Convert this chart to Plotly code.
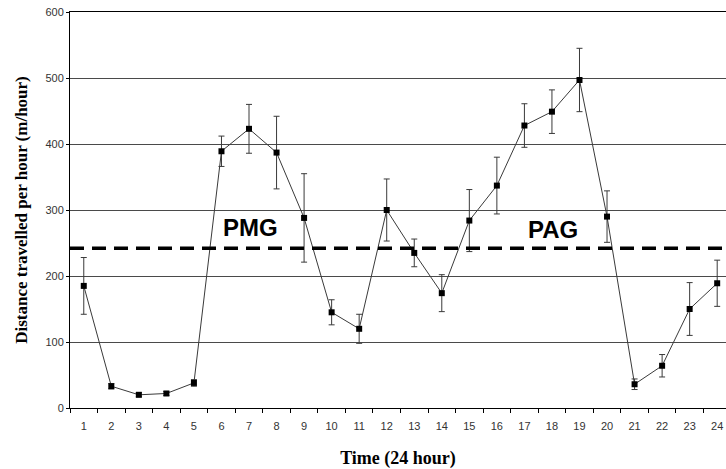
import plotly.graph_objects as go

hours = list(range(1, 25))
distance = [185, 33, 20, 22, 38, 389, 423, 387, 288, 145, 120, 300,
            235, 174, 284, 337, 428, 449, 497, 290, 36, 64, 150, 189]
error = [43, 4, 3, 3, 5, 23, 37, 55, 67, 19, 22, 47,
         21, 28, 47, 43, 33, 33, 48, 39, 8, 17, 40, 35]
threshold = 242
labels = [("PMG", 7.05, 273), ("PAG", 18.05, 270)]
y_ticks = [0, 100, 200, 300, 400, 500, 600]

fig = go.Figure()
fig.add_trace(go.Scatter(
    x=hours, y=distance,
    mode="lines+markers",
    line=dict(color="#3a3a3a", width=1),
    marker=dict(symbol="square", size=6, color="black"),
    error_y=dict(type="data", array=error, visible=True,
                 color="#3a3a3a", thickness=1, width=3),
    showlegend=False,
))
fig.add_shape(type="line", xref="paper", x0=0, x1=1, yref="y",
              y0=threshold, y1=threshold,
              line=dict(color="black", width=3.5, dash="14px,8px"))
for txt, xv, yv in labels:
    fig.add_annotation(x=xv, y=yv, text=f"<b>{txt}</b>", showarrow=False,
                       font=dict(family="Liberation Sans, Arial", size=24,
                                 color="black"))

fig.update_layout(
    width=726, height=469,
    margin=dict(l=70, r=0, t=12, b=61),
    paper_bgcolor="white", plot_bgcolor="white",
    font=dict(family="Liberation Sans, Arial", size=11, color="#333"),
)
fig.update_xaxes(
    range=[0.5, 24.32],
    tickvals=hours, ticktext=[str(h) for h in hours],
    ticks="", showgrid=False, zeroline=False,
    showline=True, linecolor="black", linewidth=1, mirror=True,
    ticklabelstandoff=8, ticklabeloverflow="allow",
    minor=dict(tick0=0.5, dtick=1, ticks="outside", ticklen=4,
               tickcolor="black", showgrid=False),
    title=dict(text="<b>Time (24 hour)</b>", standoff=20,
               font=dict(family="Liberation Serif, Times New Roman",
                         size=18, color="black")),
)
fig.update_yaxes(
    range=[0, 600], tickvals=y_ticks,
    ticks="outside", ticklen=3, tickcolor="black",
    showgrid=True, gridcolor="#4a4a4a", gridwidth=1,
    zeroline=False, showline=True, linecolor="black", linewidth=1,
    ticklabeloverflow="allow",
    title=dict(text="<b>Distance travelled per hour (m/hour)</b>", standoff=13,
               font=dict(family="Liberation Serif, Times New Roman",
                         size=17, color="black")),
)

fig.write_html(
    "out.html",
    config={"displayModeBar": False},
    post_script="document.body.style.margin='0';"
                "document.body.style.overflow='hidden';",
)
